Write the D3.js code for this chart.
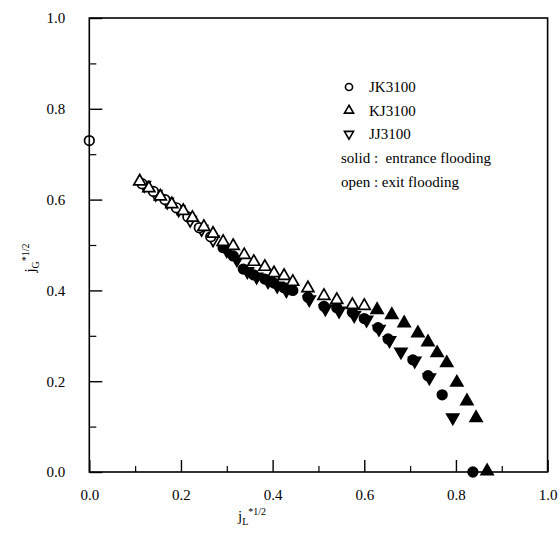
<!DOCTYPE html>
<html><head><meta charset="utf-8">
<script src="https://cdn.jsdelivr.net/npm/d3@7"></script>
<style>body{margin:0;background:#fff}svg{display:block}</style>
</head><body>
<svg id="c" width="560" height="534" font-family="Liberation Serif, Times New Roman, serif"></svg>
<script>
// ---- data ----
const xTicks = [0, 0.2, 0.4, 0.6, 0.8, 1.0];
const yTicks = [0, 0.2, 0.4, 0.6, 0.8, 1.0];
const minorTicks = [0.1, 0.3, 0.5, 0.7, 0.9];
const tickLabels = ["0.0", "0.2", "0.4", "0.6", "0.8", "1.0"];

// JK3100 (circles)
const jkOpen = [[0,0.73],[0.115,0.635],[0.14,0.618],[0.165,0.600],[0.19,0.582],[0.215,0.562],[0.24,0.538],[0.265,0.518]];
const jkSolid = [[0.292,0.494],[0.314,0.476],[0.336,0.447],[0.359,0.434],[0.383,0.425],[0.403,0.416],[0.425,0.406],[0.444,0.400],[0.477,0.385],[0.512,0.365],[0.540,0.362],[0.574,0.352],[0.600,0.338],[0.630,0.318],[0.652,0.293],[0.706,0.247],[0.739,0.212],[0.770,0.170],[0.837,0.0]];
// KJ3100 (up triangles)
const kjOpen = [[0.11,0.640],[0.13,0.625],[0.155,0.607],[0.18,0.590],[0.205,0.575],[0.225,0.560],[0.25,0.540],[0.27,0.525],[0.292,0.507],[0.314,0.498],[0.338,0.478],[0.359,0.463],[0.383,0.452],[0.403,0.438],[0.425,0.432],[0.444,0.419],[0.477,0.405],[0.512,0.388],[0.540,0.379],[0.574,0.368],[0.600,0.366]];
const kjSolid = [[0.628,0.357],[0.660,0.346],[0.687,0.328],[0.717,0.306],[0.739,0.286],[0.759,0.262],[0.780,0.240],[0.802,0.197],[0.824,0.156],[0.844,0.119],[0.868,0.002]];
// JJ3100 (down triangles)
const jjOpen = [[0.12,0.632],[0.145,0.612],[0.17,0.595],[0.195,0.578],[0.22,0.555],[0.245,0.535],[0.27,0.512]];
const jjSolid = [[0.300,0.488],[0.322,0.468],[0.345,0.442],[0.365,0.430],[0.390,0.420],[0.410,0.410],[0.430,0.400],[0.480,0.380],[0.515,0.360],[0.545,0.355],[0.578,0.345],[0.605,0.335],[0.632,0.315],[0.655,0.290],[0.680,0.265],[0.710,0.245],[0.742,0.208],[0.793,0.120]];

const legendItems = [
  {label:"JK3100", shape:"circle"},
  {label:"KJ3100", shape:"up"},
  {label:"JJ3100", shape:"down"}
];
const legendNotes = ["solid :  entrance flooding", "open : exit flooding"];

// ---- drawing ----
const FONT = "Liberation Serif, Times New Roman, serif";
const svg = d3.select("#c");
const x = d3.scaleLinear().domain([0,1]).range([89.3,547.6]);
const y = d3.scaleLinear().domain([0,1]).range([472,18]);

const symCircle = d3.symbol().type(d3.symbolCircle).size(72);
const symTri = d3.symbol().type(d3.symbolTriangle).size(62);
function shapePath(s){ return s==="circle" ? symCircle() : symTri(); }
function rot(s){ return s==="down" ? " rotate(180)" : ""; }

function drawSeries(data, shape, solid){
  svg.append("g").selectAll("path").data(data).join("path")
    .attr("d", shapePath(shape))
    .attr("transform", d => `translate(${x(d[0])},${y(d[1])})${rot(shape)}`)
    .attr("fill", solid ? "#000" : "#fff")
    .attr("stroke", "#000")
    .attr("stroke-width", 1.7);
}

// solid first, open on top
drawSeries(jkSolid, "circle", true);
drawSeries(jjSolid, "down", true);
drawSeries(kjSolid, "up", true);
drawSeries(jjOpen, "down", false);
drawSeries(jkOpen, "circle", false);
drawSeries(kjOpen, "up", false);

// frame
svg.append("rect").attr("x", x(0)).attr("y", y(1))
  .attr("width", x(1)-x(0)).attr("height", y(0)-y(1))
  .attr("fill","none").attr("stroke","#000").attr("stroke-width",1.6);

// bottom axis (inward ticks)
const xAxis = d3.axisBottom(x).tickValues(xTicks).tickSizeInner(-12).tickSizeOuter(0)
  .tickPadding(17).tickFormat((d,i)=>tickLabels[i]);
const gx = svg.append("g").attr("transform",`translate(0,${y(0)})`).call(xAxis)
  .attr("font-family", FONT).attr("font-size", 15);
gx.select(".domain").remove();
gx.selectAll("line").attr("stroke-width",1.4);
const gxm = svg.append("g").attr("transform",`translate(0,${y(0)})`)
  .call(d3.axisBottom(x).tickValues(minorTicks).tickSizeInner(-6).tickSizeOuter(0).tickFormat(""));
gxm.select(".domain").remove();
gxm.selectAll("line").attr("stroke-width",1.2);

// left axis
const yAxis = d3.axisLeft(y).tickValues(yTicks).tickSizeInner(-13).tickSizeOuter(0)
  .tickPadding(24).tickFormat((d,i)=>tickLabels[i]);
const gy = svg.append("g").attr("transform",`translate(${x(0)},0)`).call(yAxis)
  .attr("font-family", FONT).attr("font-size", 15);
gy.select(".domain").remove();
gy.selectAll("line").attr("stroke-width",1.4);
const gym = svg.append("g").attr("transform",`translate(${x(0)},0)`)
  .call(d3.axisLeft(y).tickValues(minorTicks).tickSizeInner(-7).tickSizeOuter(0).tickFormat(""));
gym.select(".domain").remove();
gym.selectAll("line").attr("stroke-width",1.2);

// axis titles
function title(g, sub){
  const t = g.append("text").attr("font-size",15).attr("text-anchor","middle").attr("font-family",FONT);
  t.append("tspan").text("j");
  t.append("tspan").attr("font-size",10).attr("dy",4).text(sub);
  t.append("tspan").attr("font-size",10).attr("dy",-10).text("*1/2");
  return t;
}
title(svg.append("g").attr("transform","translate(252,521)"), "L");
title(svg.append("g").attr("transform","translate(35,258) rotate(-90)"), "G");

// legend
const lg = svg.append("g").attr("font-family", FONT);
legendItems.forEach((d,i)=>{
  const cy = 87 + i*23.5;
  lg.append("path").attr("d", d.shape==="circle" ? d3.symbol().type(d3.symbolCircle).size(40)() : d3.symbol().type(d3.symbolTriangle).size(36)())
    .attr("transform",`translate(349,${cy})${rot(d.shape)}`)
    .attr("fill","#fff").attr("stroke","#000").attr("stroke-width",1.6);
  lg.append("text").attr("x",369).attr("y",cy+5).attr("font-size",15).text(d.label);
});
legendNotes.forEach((t,i)=>{
  lg.append("text").attr("x",341).attr("y",163+i*24).attr("font-size",15).style("white-space","pre").text(t);
});
</script>
</body></html>
